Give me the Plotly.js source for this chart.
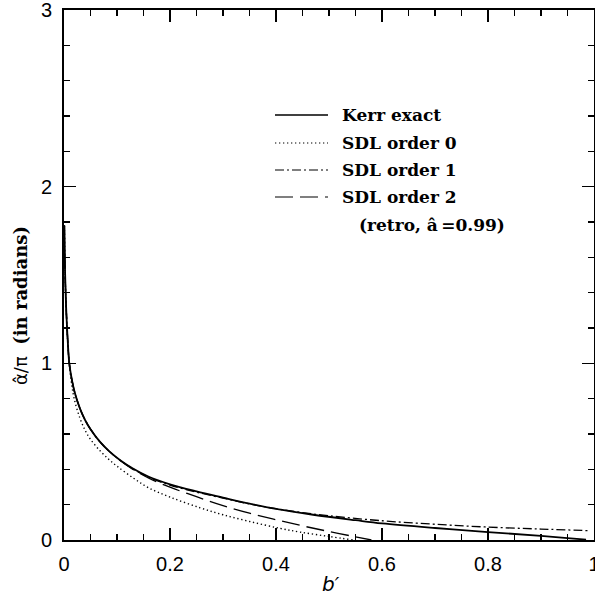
<!DOCTYPE html>
<html>
<head>
<meta charset="utf-8">
<script src="https://cdn.plot.ly/plotly-3.0.1.min.js"></script>
<style>html,body{margin:0;padding:0;background:#fff;}#chart{width:595px;height:600px;}</style>
</head>
<body>
<div id="chart"></div>
<script>
// b' values and deflection alpha/pi for each curve
const kerrB = [0.0007, 0.002, 0.004, 0.007, 0.010, 0.015, 0.020, 0.030, 0.040, 0.050, 0.068, 0.085, 0.106, 0.130, 0.160, 0.200, 0.250, 0.300, 0.350, 0.400, 0.470, 0.550, 0.600, 0.700, 0.800, 0.900, 0.950, 0.985];
const kerrY = [1.78, 1.52, 1.32, 1.13, 1.00, 0.905, 0.838, 0.745, 0.678, 0.627, 0.555, 0.503, 0.452, 0.405, 0.358, 0.315, 0.275, 0.240, 0.206, 0.176, 0.143, 0.112, 0.094, 0.068, 0.045, 0.023, 0.011, 0.002];

const sdl0B = [0.0007, 0.002, 0.004, 0.007, 0.010, 0.015, 0.020, 0.030, 0.040, 0.050, 0.068, 0.085, 0.100, 0.131, 0.160, 0.200, 0.257, 0.300, 0.350, 0.4075, 0.445, 0.500, 0.546];
const sdl0Y = [1.78, 1.52, 1.32, 1.12, 0.99, 0.87, 0.79, 0.69, 0.62, 0.57, 0.505, 0.455, 0.418, 0.35, 0.295, 0.243, 0.182, 0.143, 0.105, 0.066, 0.045, 0.020, 0.0];

const sdl1B = [0.0007, 0.002, 0.004, 0.007, 0.010, 0.015, 0.020, 0.030, 0.040, 0.050, 0.068, 0.085, 0.106, 0.130, 0.160, 0.200, 0.250, 0.300, 0.350, 0.400, 0.450, 0.500, 0.600, 0.700, 0.800, 0.900, 0.990];
const sdl1Y = [1.78, 1.52, 1.32, 1.13, 1.00, 0.905, 0.838, 0.745, 0.678, 0.627, 0.555, 0.503, 0.451, 0.403, 0.355, 0.311, 0.271, 0.237, 0.204, 0.177, 0.155, 0.137, 0.109, 0.089, 0.073, 0.062, 0.053];

const sdl2B = [0.0007, 0.002, 0.004, 0.007, 0.010, 0.015, 0.020, 0.030, 0.040, 0.050, 0.068, 0.085, 0.106, 0.130, 0.160, 0.200, 0.250, 0.300, 0.350, 0.400, 0.450, 0.500, 0.550, 0.580];
const sdl2Y = [1.78, 1.52, 1.32, 1.13, 1.00, 0.905, 0.838, 0.745, 0.678, 0.627, 0.555, 0.503, 0.450, 0.400, 0.350, 0.299, 0.245, 0.195, 0.152, 0.115, 0.080, 0.048, 0.018, 0.0];

const seriesNames = ["Kerr exact", "SDL order 0", "SDL order 1", "SDL order 2"];
const xTickVals = [0, 0.2, 0.4, 0.6, 0.8, 1];
const xTickText = ["0", "0.2", "0.4", "0.6", "0.8", "1"];
const yTickVals = [0, 1, 2, 3];
const yTickText = ["0", "1", "2", "3"];

const dashes = ["solid", "1.3px,2.7px", "9px,3px,2px,3px", "18px,7px"];
const widths = [1.8, 1.4, 1.3, 1.3];
const xs = [kerrB, sdl0B, sdl1B, sdl2B];
const ys = [kerrY, sdl0Y, sdl1Y, sdl2Y];

const traces = xs.map((x, i) => ({
  x: x, y: ys[i], type: "scatter", mode: "lines", name: seriesNames[i],
  line: {color: "#000", width: widths[i], dash: dashes[i], shape: "spline", smoothing: 1},
  showlegend: false, hoverinfo: "skip"
}));

// custom legend (paper coords)
const legRowsPx = [115, 143, 170, 197];
const toPY = py => (540 - py) / 530;
const toPX = px => (px - 64) / 530;
const shapes = legRowsPx.map((py, i) => ({
  type: "line", xref: "paper", yref: "paper",
  x0: toPX(275), x1: toPX(328), y0: toPY(py), y1: toPY(py),
  line: {color: "#000", width: i === 0 ? 1.6 : 1.2, dash: dashes[i]}
}));
const legendFont = {family: "DejaVu Serif", size: 17, color: "#000", weight: "bold"};
const annotations = legRowsPx.map((py, i) => ({
  xref: "paper", yref: "paper", x: toPX(340), y: toPY(py), xanchor: "left", yanchor: "middle",
  text: seriesNames[i], showarrow: false, font: legendFont
}));
annotations.push({
  xref: "paper", yref: "paper", x: toPX(357), y: toPY(225), xanchor: "left", yanchor: "middle",
  text: "(retro, a\u0302\u2009=0.99)", showarrow: false, font: legendFont
});
annotations.push({
  xref: "paper", yref: "paper", x: toPX(20), y: toPY(306), xanchor: "center", yanchor: "middle",
  textangle: -90, showarrow: false,
  text: "\u03b1\u0302/\u03c0\u00a0\u00a0<span style='font-family:DejaVu Serif;font-weight:bold'>(in radians)</span>",
  font: {family: "DejaVu Sans", size: 18, color: "#000"}
});
annotations.push({
  xref: "paper", yref: "paper", x: toPX(331), y: toPY(584), xanchor: "center", yanchor: "middle",
  showarrow: false, text: "<i>b\u2032</i>",
  font: {family: "DejaVu Sans", size: 20, color: "#000"}
});

const axisCommon = {
  showgrid: false, zeroline: false, showline: true, linecolor: "#000", linewidth: 2,
  mirror: "allticks", ticks: "inside", ticklen: 12, tickwidth: 1.3, tickcolor: "#000",
  tickfont: {family: "Liberation Sans", size: 20, color: "#000"},
  ticklabeloverflow: "allow"
};

const layout = {
  width: 595, height: 600,
  margin: {l: 64, r: 1, t: 10, b: 60},
  paper_bgcolor: "#fff", plot_bgcolor: "#fff",
  showlegend: false,
  xaxis: Object.assign({}, axisCommon, {
    range: [0, 1], tickmode: "array", tickvals: xTickVals, ticktext: xTickText,
    minor: {dtick: 0.05, ticks: "inside", ticklen: 6, tickwidth: 1.2, tickcolor: "#000"},
    ticklabelstandoff: 5
  }),
  yaxis: Object.assign({}, axisCommon, {
    range: [0, 3], tickmode: "array", tickvals: yTickVals, ticktext: yTickText,
    minor: {dtick: 0.2, ticks: "inside", ticklen: 6, tickwidth: 1.2, tickcolor: "#000"},
    ticklabelstandoff: 6
  }),
  shapes: shapes,
  annotations: annotations
};

Plotly.newPlot("chart", traces, layout, {displayModeBar: false, staticPlot: true});
</script>
</body>
</html>
